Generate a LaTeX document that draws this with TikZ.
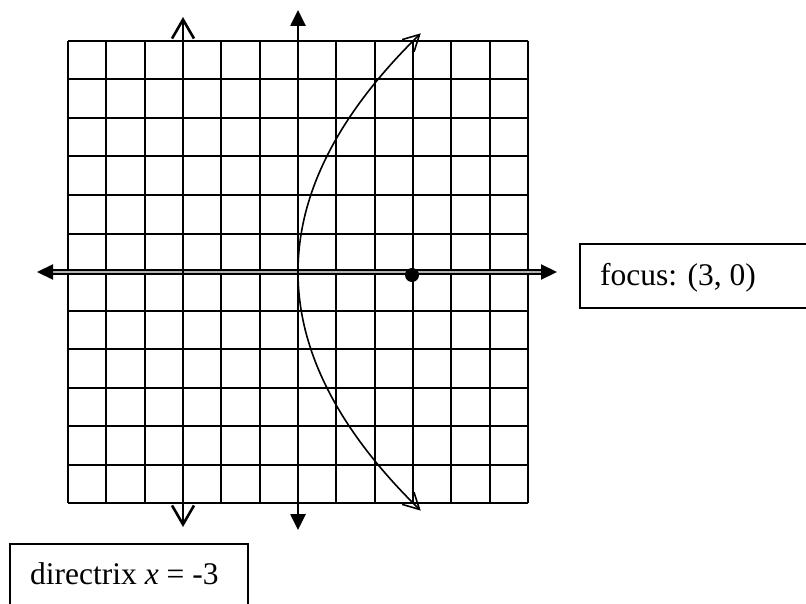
\documentclass[tikz,border=0pt]{standalone}
\usepackage{fontspec}
\setmainfont{Liberation Serif}
\usetikzlibrary{arrows.meta}
\begin{document}
\begin{tikzpicture}[x=1bp,y=-1bp,
  gridline/.style={line width=2bp,black},
  axisline/.style={line width=2.6bp,black,{Triangle[length=16bp,width=15bp]}-{Triangle[length=16bp,width=15bp]}},
  xaxisline/.style={line width=2.1bp,double=gray!60,double distance=1.1bp,{Triangle[length=16bp,width=15bp]}-{Triangle[length=16bp,width=15bp]}},
  dirline/.style={line width=2.6bp,black,{Straight Barb[length=19bp,width=22bp]}-{Straight Barb[length=19bp,width=22bp]}},
  parab/.style={line width=1.6bp,black,{Straight Barb[length=16bp,width=17bp]}-{Straight Barb[length=16bp,width=17bp]}},
  boxshape/.style={draw,line width=1.8bp,inner sep=0pt,anchor=north west},
  labeltext/.style={font=\fontsize{31.5bp}{38bp}\selectfont,inner sep=0pt,anchor=base west}]
\useasboundingbox (0,0) rectangle (806,604);
% grid
\foreach \i in {0,...,12}{
  \draw[gridline] ({68+\i*460/12},41) -- ({68+\i*460/12},503);
  \draw[gridline] (68,{41+\i*462/12}) -- (528,{41+\i*462/12});
}
% axes
\coordinate (xl) at (37,272);
\coordinate (xr) at (557,272);
\coordinate (yt) at (298,10);
\coordinate (yb) at (298,530);
\coordinate (dt) at (183,17);
\coordinate (db) at (183,527);
\draw[xaxisline] (xl) -- (xr);
\draw[axisline] (yt) -- (yb);
\draw[dirline] (dt) -- (db);
% parabola y^2 = 12x
\draw[parab] plot[variable=\t,domain=-6.2:6.2,samples=120,smooth] ({298+38.33*\t*\t/12},{272+38.5*\t});
% focus
\fill (412,275) circle (7bp);
% labels
\node[boxshape,minimum width=260bp,minimum height=64bp] (focusbox) at (579,243) {};
\node[labeltext] (focus) at (600,285) {focus: (3, 0)};
\node[boxshape,minimum width=238bp,minimum height=70bp] (dirbox) at (9,543) {};
\node[labeltext] (dir) at (30,584) {directrix \textit{x} = -3};
\end{tikzpicture}
\end{document}
